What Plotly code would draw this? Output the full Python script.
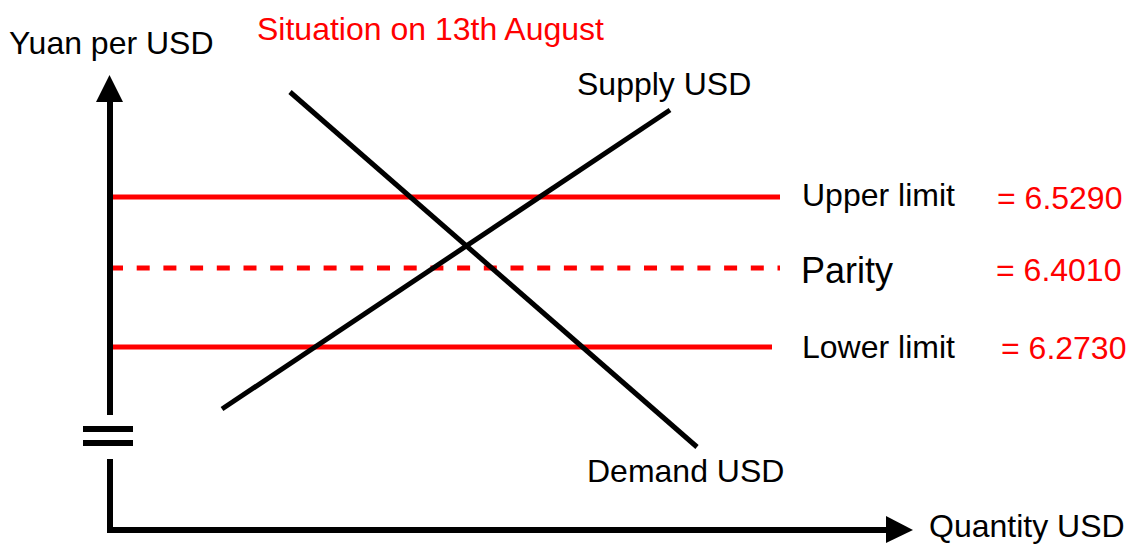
import plotly.graph_objects as go

# ---- schematic data (chart units: x = quantity, y = price, 0..1140 x 0..545) ----
W, H = 1140, 545

supply_q = [222, 670]
supply_p = [136, 435]
demand_q = [290, 697]
demand_p = [453, 98]

limit_names = ["Upper limit", "Parity", "Lower limit"]
limit_values = ["= 6.5290", "= 6.4010", "= 6.2730"]
limit_levels = [348, 277, 198]
limit_start = [110, 110, 110]
limit_end = [780, 780, 772]
limit_dash = ["solid", "13px,13.7px", "solid"]
limit_label_x = [800, 799, 800]
limit_label_size = [32, 36, 32]
limit_value_x = [995, 994, 999]
limit_label_y = [350, 275, 198]
limit_value_y = [347, 275, 197]

title_text = "Situation on 13th August"
y_title = "Yuan per USD"
x_title = "Quantity USD"
supply_label = "Supply USD"
demand_label = "Demand USD"

FONT = "Liberation Sans, Arial, sans-serif"
RED = "#ff0000"
BLACK = "#000000"

fig = go.Figure()

# limit lines
for lvl, x0, x1, dash in zip(limit_levels, limit_start, limit_end, limit_dash):
    fig.add_trace(go.Scatter(x=[x0, x1], y=[lvl, lvl], mode="lines",
                             line=dict(color=RED, width=5, dash=dash),
                             hoverinfo="skip", showlegend=False))

# supply & demand
fig.add_trace(go.Scatter(x=supply_q, y=supply_p, mode="lines",
                         line=dict(color=BLACK, width=5), showlegend=False))
fig.add_trace(go.Scatter(x=demand_q, y=demand_p, mode="lines",
                         line=dict(color=BLACK, width=5), showlegend=False))

# ---- axes (drawn as shapes) ----
ax_x = 110
ax_y = 15          # horizontal axis level
y_top_base = 443   # arrow base
y_tip = 470        # arrow tip
break_top = 130
break_bot = 86
x_end_base = 886
x_tip = 913

shapes = []
shapes.append(dict(type="line", x0=ax_x, x1=ax_x, y0=break_top, y1=y_top_base,
                   line=dict(color=BLACK, width=6)))
shapes.append(dict(type="line", x0=ax_x, x1=ax_x, y0=ax_y - 3, y1=break_bot,
                   line=dict(color=BLACK, width=6)))
shapes.append(dict(type="line", x0=ax_x - 3, x1=x_end_base, y0=ax_y, y1=ax_y,
                   line=dict(color=BLACK, width=6)))
# arrowheads
shapes.append(dict(type="path",
                   path=f"M {ax_x-14},{y_top_base} L {ax_x+13},{y_top_base} L {ax_x-0.5},{y_tip} Z",
                   fillcolor=BLACK, line=dict(width=0)))
shapes.append(dict(type="path",
                   path=f"M {x_end_base},{ax_y+14} L {x_end_base},{ax_y-13} L {x_tip},{ax_y} Z",
                   fillcolor=BLACK, line=dict(width=0)))
# axis break marks
for yb in [116, 102]:
    shapes.append(dict(type="rect", x0=83, x1=133, y0=yb - 3, y1=yb + 3,
                       fillcolor=BLACK, line=dict(width=0)))

annotations = []
def txt(x, y, s, size=32, color=BLACK, xanchor="left"):
    annotations.append(dict(x=x, y=y, text=s, showarrow=False, xanchor=xanchor,
                            yanchor="middle", font=dict(family=FONT, size=size, color=color)))

txt(7, 502, y_title)
txt(255, 516, title_text, color=RED)
txt(575, 461, supply_label)
txt(585, 74, demand_label)
txt(927, 19, x_title)
for name, val, lx, vx, ly, vy, sz in zip(limit_names, limit_values, limit_label_x,
                                         limit_value_x, limit_label_y, limit_value_y,
                                         limit_label_size):
    txt(lx, ly, name, size=sz)
    txt(vx, vy, val, color=RED)

fig.update_layout(
    width=W, height=H,
    margin=dict(l=0, r=0, t=0, b=0),
    paper_bgcolor="white", plot_bgcolor="white",
    xaxis=dict(range=[0, W], visible=False, fixedrange=True),
    yaxis=dict(range=[0, H], visible=False, fixedrange=True),
    shapes=shapes, annotations=annotations, showlegend=False,
)

fig.write_html("out.html", config={"displayModeBar": False},
               post_script="document.body.style.margin='0';document.body.style.overflow='hidden';")
